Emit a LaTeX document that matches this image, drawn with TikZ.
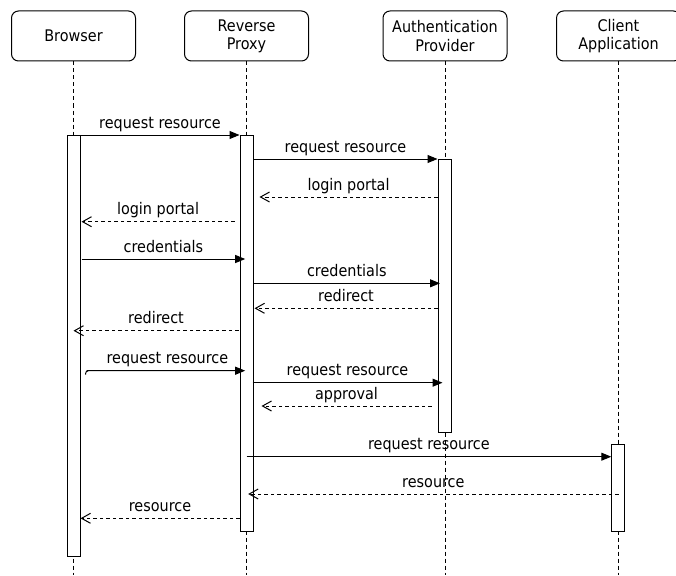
\documentclass[tikz,border=0pt]{standalone}
\usepackage{fontspec}
\setmainfont{DejaVu Sans}[FakeStretch=0.9]
\usetikzlibrary{arrows.meta,calc}

\tikzset{
  every node/.style={font=\fontsize{16pt}{18.3pt}\selectfont, text=black},
  head/.style={draw, line width=1pt, rounded corners=7pt, fill=white,
    minimum width=124pt, minimum height=50pt, align=center, inner sep=0pt},
  life/.style={line width=1pt, dash pattern=on 4pt off 3pt},
  bar/.style={draw, line width=1pt, fill=white, minimum width=13pt,
    inner sep=0pt, anchor=north},
  msg/.style={line width=1pt, -{Triangle[length=10pt,width=8pt]}},
  reply/.style={line width=1pt, dash pattern=on 3.5pt off 3pt,
    -{Straight Barb[length=9pt,width=10pt]}},
  lbl/.style={midway, anchor=base, yshift=7pt, inner sep=0pt},
}

\begin{document}
\begin{tikzpicture}[x=1pt, y=-1pt]
  \useasboundingbox[fill=white] (0,0) rectangle (676,575);
  \clip (0,0) rectangle (676,575);

  % participants
  \node[head] (hB) at (73.5,36)  {Browser};
  \node[head] (hP) at (246.5,36) {Reverse\\Proxy};
  \node[head] (hA) at (445,36)   {Authentication\\Provider};
  \node[head] (hC) at (618.5,36) {Client\\Application};

  % lifelines
  \draw[life] (hB.south) -- (hB.south |- 0,575);
  \draw[life] (hP.south) -- (hP.south |- 0,575);
  \draw[life] (hA.south) -- (hA.south |- 0,575);
  \draw[life] (hC.south) -- (hC.south |- 0,575);

  % activation bars
  \node[bar, minimum height=421pt] (bB) at (73.5,135)  {};
  \node[bar, minimum height=396pt] (bP) at (246.5,135) {};
  \node[bar, minimum height=273pt] (bA) at (444.5,159) {};
  \node[bar, minimum height=87pt]  (bC) at (618.25,444) {};

  % messages
  \draw[msg] (bB.east |- 0,135) -- (bP.west |- 0,135)
    node[lbl] {request resource};
  \draw[msg] (bP.east |- 0,159) -- (bA.west |- 0,159)
    node[lbl] {request resource};
  \draw[reply] (bA.west |- 0,197) -- ($(bP.east |- 0,197)+(6,0)$)
    node[lbl] {login portal};
  \draw[reply] ($(bP.west |- 0,221.7)+(-5,0)$) -- ($(bB.east |- 0,221.7)+(1,0)$)
    node[lbl] {login portal};
  \draw[msg] ($(bB.east |- 0,259)+(1,0)$) -- ($(bP.west |- 0,259)+(5.7,0)$)
    node[lbl] {credentials};
  \draw[msg] (bP.east |- 0,283.3) -- ($(bA.west |- 0,283.3)+(2.5,0)$)
    node[lbl] {credentials};
  \draw[reply] (bA.west |- 0,308.3) -- ($(bP.east |- 0,308.3)+(1,0)$)
    node[lbl] {redirect};
  \draw[reply] ($(bP.west |- 0,330.7)+(-1,0)$) -- (hB.south |- 0,330.7)
    node[lbl] {redirect};
  \draw[msg, rounded corners=3pt] ($(bB.east |- 0,374.5)+(5,0)$)
    |- ($(bB.east |- 0,370.7)+(9,0)$) -- ($(bP.west |- 0,370.7)+(5.7,0)$)
    node[lbl] {request resource};
  \draw[msg] ($(bP.east |- 0,382.7)+(-1,0)$) -- ($(bA.west |- 0,382.7)+(5,0)$)
    node[lbl] {request resource};
  \draw[reply] ($(bA.west |- 0,406)+(-6,0)$) -- ($(bP.east |- 0,406)+(8,0)$)
    node[lbl] {approval};
  \draw[msg] (hP.south |- 0,456.7) -- (bC.west |- 0,456.7)
    node[lbl] {request resource};
  \draw[reply] (hC.south |- 0,494) -- ($(bP.west |- 0,494)+(8.7,0)$)
    node[lbl] {resource};
  \draw[reply] (bP.west |- 0,518.3) -- (bB.east |- 0,518.3)
    node[lbl] {resource};
\end{tikzpicture}
\end{document}
